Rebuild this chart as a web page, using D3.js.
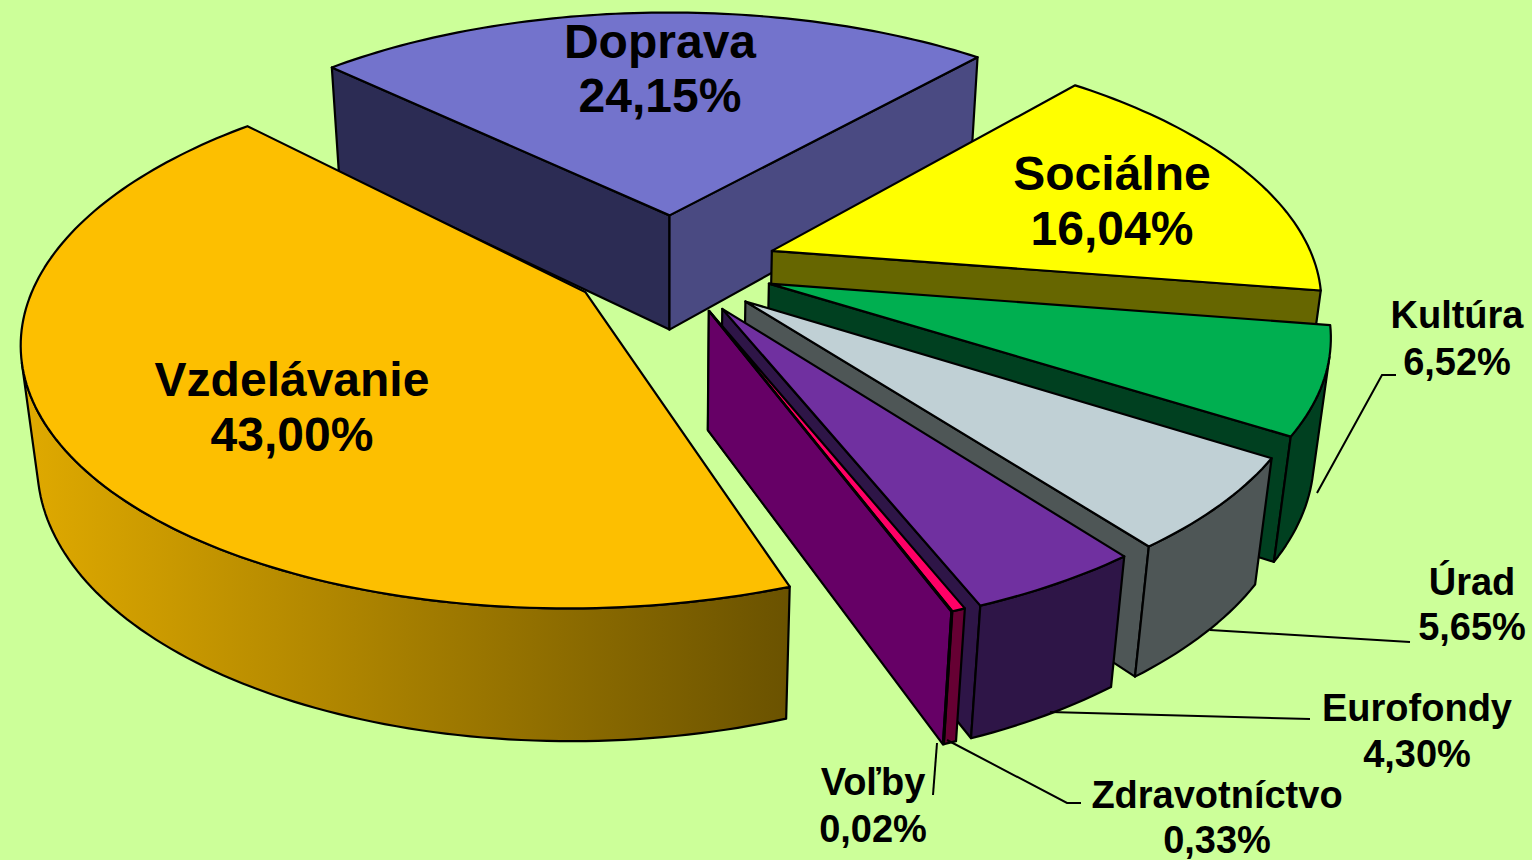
<!DOCTYPE html>
<html><head><meta charset="utf-8">
<script src="https://cdn.jsdelivr.net/npm/d3@7/dist/d3.min.js"></script>
<style>html,body{margin:0;padding:0;background:#CCFF99;overflow:hidden}svg{display:block}</style>
</head><body><svg id="c" width="1532" height="860"></svg>
<script>
// data
const categories = ["Vzdelávanie","Doprava","Sociálne","Kultúra","Úrad","Eurofondy","Zdravotníctvo","Voľby"];
const values = [43.00,24.15,16.04,6.52,5.65,4.30,0.33,0.02];
const valueLabels = ["43,00%","24,15%","16,04%","6,52%","5,65%","4,30%","0,33%","0,02%"];
// style
const topColors   = ["#FDBF00","#7373CC","#FFFF00","#00AF50","#C0D0D5","#7030A0","#FF0066","#990099"];
const startFace   = ["#7A5E00","#2C2C54","#666600","#004020","#4E5656","#2E1547","#660033","#660066"];
const endFace     = ["#7A5E00","#4A4A82","#666600","#004020","#4E5656","#2E1547","#660033","#660066"];
const rimColors   = ["url(#rimV)","#4A4A82","#666600","#004020","#4E5656","#2E1547","#660033","#660066"];
const explode     = [0.174,0.219,0.206,0.192,0.187,0.181,0.176,0.176];
const explodeTurn = [2.4,3,-0.6,-3.4,-0.6,-2.9,-3.4,-3.9];
const sliceTurn   = [1,0,0,0,0,0,0,0];
const drawOrder   = [1,2,3,4,5,6,7,0];
const labelFont   = [48,48,48,38,38,38,38,38];
const labelX      = [292,660,1112,1457,1472,1417,1217,873];
const labelY      = [396,58,190,328,595,721,808,795];
const labelGap    = [55,54,55,47,45,46,45,47];
const leaders = [
 [[1396,375],[1382,375],[1317,493]],
 [[1210,630],[1410,642]],
 [[1050,712],[1310,719]],
 [[947,740],[1067,803],[1081,803]],
 [[937,743],[933,795]]
];
// projection parameters
const cx=668, cy=269, rx=545, ry=254, a=0.17, b=0.025, hz=120;
const project=(u,v,z)=>{const w=1-a*v+b*z;return [cx+rx*u/w, cy+(ry*v+hz*z)/w];};
const first = 159.5*Math.PI/180;
const arcs = d3.pie().sort(null).startAngle(first).endAngle(first+2*Math.PI)(values);

const svg=d3.select("#c");
const grad=svg.append("defs").append("linearGradient").attr("id","rimV")
  .attr("gradientUnits","userSpaceOnUse").attr("x1",20).attr("x2",792).attr("y1",0).attr("y2",0);
grad.append("stop").attr("offset",0).attr("stop-color","#E0AA00");
grad.append("stop").attr("offset",1).attr("stop-color","#6A5200");
svg.append("rect").attr("width",1532).attr("height",860).attr("fill","#CCFF99");

const line=d3.line();
const area2=pts=>{let s=0;pts.forEach((p,i)=>{const q=pts[(i+1)%pts.length];s+=p[0]*q[1]-q[0]*p[1];});return s/2;};
const face=(g,pts,fill)=>g.append("path").attr("d",line(pts)+"Z").attr("fill",fill)
   .attr("stroke","#000").attr("stroke-width",2.2).attr("stroke-linejoin","round");

drawOrder.forEach(i=>{
  const d=arcs[i], mid=(d.startAngle+d.endAngle)/2+explodeTurn[i]*Math.PI/180, e=explode[i];
  const ox=e*Math.sin(mid), oy=-e*Math.cos(mid);
  const P=(phi,r,z)=>project(ox+r*Math.sin(phi),oy-r*Math.cos(phi),z);
  const g=svg.append("g").attr("class","slice");
  const shift=sliceTurn[i]*Math.PI/180, a0=d.startAngle+shift, a1=d.endAngle+shift;
  const n=Math.max(2,Math.ceil((a1-a0)/0.02));
  const phis=d3.range(n+1).map(k=>a0+(a1-a0)*k/n);
  // radial side faces
  [[a0,startFace[i],1],[a1,endFace[i],-1]].forEach(([phi,c,dir])=>{
    const q=[P(phi,0,0),P(phi,1,0),P(phi,1,1),P(phi,0,1)];
    if(area2(q)*dir<0) face(g,q,c);
  });
  // outer rim: visible quads only
  let run=[];
  const flush=()=>{ if(run.length>1){
      const top=run.map(p=>P(p,1,0)), bot=run.map(p=>P(p,1,1)).reverse();
      face(g,top.concat(bot),rimColors[i]); } run=[]; };
  for(let k=0;k<n;k++){
    const q=[P(phis[k],1,0),P(phis[k+1],1,0),P(phis[k+1],1,1),P(phis[k],1,1)];
    if(area2(q)<0){ if(!run.length) run.push(phis[k]); run.push(phis[k+1]); } else flush();
  }
  flush();
  // top face
  face(g,[P(a0,0,0)].concat(phis.map(p=>P(p,1,0))),topColors[i]);
});

// leaders
leaders.forEach(l=>svg.append("path").attr("d",line(l)).attr("fill","none").attr("stroke","#000").attr("stroke-width",2));
// labels
categories.forEach((c,i)=>{
  const t=svg.append("text").attr("text-anchor","middle").attr("font-family","'Liberation Sans',Arial,sans-serif")
    .attr("font-weight","bold").attr("font-size",labelFont[i]).attr("fill","#000");
  t.append("tspan").attr("x",labelX[i]).attr("y",labelY[i]).text(c);
  t.append("tspan").attr("x",labelX[i]).attr("y",labelY[i]+labelGap[i]).text(valueLabels[i]);
});
</script></body></html>
